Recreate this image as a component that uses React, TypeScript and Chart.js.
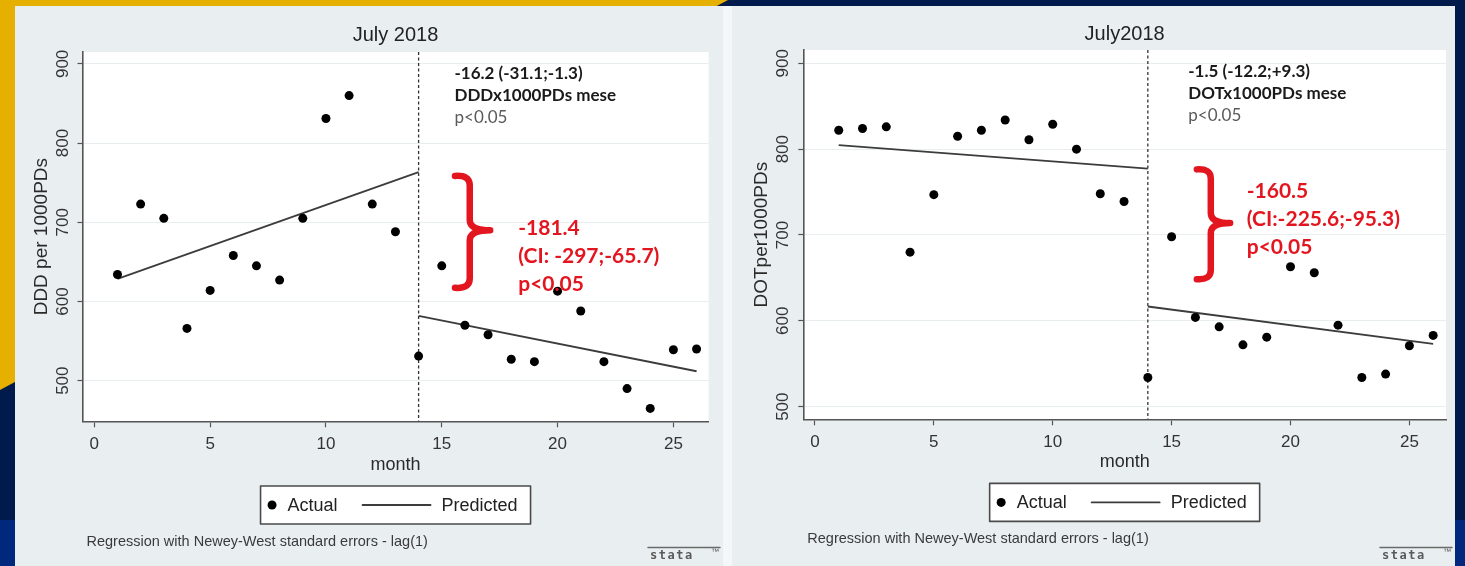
import { useEffect, useRef } from "react";
import { Chart, registerables } from "chart.js";

Chart.register(...registerables);

// ---- data -----------------------------------------------------------------
const months = [1, 2, 3, 4, 5, 6, 7, 8, 9, 10, 11, 12, 13, 14, 15, 16, 17, 18, 19, 20, 21, 22, 23, 24, 25, 26];

// DDD per 1000 patient-days
const dddActual = [634, 723, 705, 566, 614, 658, 645, 627, 705, 831, 860, 723, 688, 531, 645, 570, 558, 527, 524, 613, 588, 524, 490, 465, 539, 540];
// DOT per 1000 patient-days
const dotActual = [822, 824, 826, 680, 747, 815, 822, 834, 811, 829, 800, 748, 739, 534, 698, 604, 593, 572, 581, 663, 656, 595, 534, 538, 571, 583];

// segmented regression fits (before / after the intervention month)
const preMonths = [1, 14];
const postMonths = [14, 26];
const dddPredPre = [628.5, 763.3];
const dddPredPost = [581.9, 511.9];
const dotPredPre = [804.8, 777.2];
const dotPredPost = [616.7, 573.2];

const interventionMonth = 14;

const xTicks = [0, 5, 10, 15, 20, 25];
const yTicks = [500, 600, 700, 800, 900];

const dddTrendText = ["-16.2 (-31.1;-1.3)", "DDDx1000PDs mese", "p<0.05"];
const dddEffectText = ["-181.4", "(CI: -297;-65.7)", "p<0.05"];
const dotTrendText = ["-1.5 (-12.2;+9.3)", "DOTx1000PDs mese", "p<0.05"];
const dotEffectText = ["-160.5", "(CI:-225.6;-95.3)", "p<0.05"];

const footnote = "Regression with Newey-West standard errors - lag(1)";

// ---- styling ---------------------------------------------------------------
const PANEL_BG = "#e9eff1";
const AXIS = "#555555";
const TEXT = "#2a2a2a";
const RED = "#e3161f";
const FIT = "#3c3c3c";
const SANS = '"Liberation Sans", Arial, sans-serif';
const CALIBRI_LIKE = 'Lato, "Open Sans", sans-serif';

Chart.defaults.font.family = SANS;

type Panel = {
  width: number;
  height: number;
  title: string;
  yTitle: string;
  actual: number[];
  predPre: number[];
  predPost: number[];
  xMin: number;
  xMax: number;
  yMin: number;
  yMax: number;
  padTop: number;
  padRight: number;
  padBottom: number;
  yAxisWidth: number;
  xAxisHeight: number;
  yTitlePad: number;
  yTickPad: number;
  titleY: number;
  legendTop: number;
  footY: number;
  trendText: string[];
  trendAt: { x: number; y: number };
  effectText: string[];
  effectAt: { x: number; y: number };
  brace: { x0: number; x1: number; top: number; tip: number; bottom: number };
};

const dddPanel: Panel = {
  width: 708,
  height: 560,
  title: "July 2018",
  yTitle: "DDD per 1000PDs",
  actual: dddActual,
  predPre: dddPredPre,
  predPost: dddPredPost,
  xMin: -0.51,
  xMax: 26.52,
  yMin: 448.7,
  yMax: 915,
  padTop: 46,
  padRight: 14.4,
  padBottom: 90.2,
  yAxisWidth: 67.5,
  xAxisHeight: 54.5,
  yTitlePad: 15,
  yTickPad: 0,
  titleY: 29.5,
  legendTop: 480,
  footY: 535.5,
  trendText: dddTrendText,
  trendAt: { x: 15.55, y: 887.5 },
  effectText: dddEffectText,
  effectAt: { x: 18.3, y: 693 },
  brace: { x0: 15.57, x1: 17.09, top: 759.8, tip: 690, bottom: 616 },
};

const dotPanel: Panel = {
  width: 723,
  height: 560,
  title: "July2018",
  yTitle: "DOTper1000PDs",
  actual: dotActual,
  predPre: dotPredPre,
  predPost: dotPredPost,
  xMin: -0.49,
  xMax: 26.54,
  yMin: 485.3,
  yMax: 915.5,
  padTop: 44,
  padRight: 9,
  padBottom: 92.8,
  yAxisWidth: 71.3,
  xAxisHeight: 53.9,
  yTitlePad: 18,
  yTickPad: 1,
  titleY: 28,
  legendTop: 477.4,
  footY: 532.7,
  trendText: dotTrendText,
  trendAt: { x: 15.7, y: 890 },
  effectText: dotEffectText,
  effectAt: { x: 18.16, y: 751 },
  brace: { x0: 16.06, x1: 17.46, top: 777.6, tip: 714, bottom: 647.4 },
};

function pairs(xs: number[], ys: number[]) {
  return xs.map((x, i) => ({ x, y: ys[i] }));
}

function makeDecor(p: Panel) {
  return {
    id: "stataDecor",
    beforeDraw(chart: any) {
      const { ctx, chartArea: a } = chart;
      ctx.save();
      ctx.fillStyle = PANEL_BG;
      ctx.fillRect(0, 0, chart.width, chart.height);
      ctx.fillStyle = "#ffffff";
      ctx.fillRect(a.left, a.top, a.right - a.left, a.bottom - a.top);
      ctx.restore();
    },
    beforeDatasetsDraw(chart: any) {
      const { ctx, chartArea: a, scales } = chart;
      const x = scales.x.getPixelForValue(interventionMonth);
      ctx.save();
      ctx.strokeStyle = "#333";
      ctx.lineWidth = 1.3;
      ctx.setLineDash([3, 2.5]);
      ctx.beginPath();
      ctx.moveTo(x, a.top);
      ctx.lineTo(x, a.bottom);
      ctx.stroke();
      ctx.restore();
    },
    afterDraw(chart: any) {
      const { ctx, chartArea: a, scales } = chart;
      const sx = (v: number) => scales.x.getPixelForValue(v);
      const sy = (v: number) => scales.y.getPixelForValue(v);
      const cx = (a.left + a.right) / 2;
      ctx.save();

      // graph title
      ctx.fillStyle = "#222";
      ctx.font = `20px ${SANS}`;
      ctx.textAlign = "center";
      ctx.textBaseline = "middle";
      ctx.fillText(p.title, cx, p.titleY);

      // slope-change note
      ctx.textAlign = "left";
      const tx = sx(p.trendAt.x);
      const ty = sy(p.trendAt.y);
      p.trendText.forEach((line, i) => {
        const last = i === p.trendText.length - 1;
        ctx.font = `${last ? "" : "bold "}17px ${CALIBRI_LIKE}`;
        ctx.fillStyle = last ? "#5a5a5a" : "#1a1a1a";
        ctx.fillText(line, tx, ty + i * 22);
      });

      // level-change brace and note
      const b = p.brace;
      const X0 = sx(b.x0);
      const X1 = sx(b.x1);
      const T = sy(b.top);
      const M = sy(b.tip);
      const B = sy(b.bottom);
      const S = X0 + (X1 - X0) * 0.42;
      const r = (B - T) * 0.09;
      ctx.strokeStyle = RED;
      ctx.lineWidth = 6.5;
      ctx.lineCap = "round";
      ctx.lineJoin = "round";
      ctx.beginPath();
      ctx.moveTo(X0, T + 1);
      ctx.quadraticCurveTo(S, T, S, T + r);
      ctx.lineTo(S, M - r);
      ctx.quadraticCurveTo(S, M, X1, M);
      ctx.quadraticCurveTo(S, M, S, M + r);
      ctx.lineTo(S, B - r);
      ctx.quadraticCurveTo(S, B, X0, B - 1);
      ctx.stroke();

      ctx.fillStyle = RED;
      ctx.font = `bold 21px ${CALIBRI_LIKE}`;
      const ex = sx(p.effectAt.x);
      const ey = sy(p.effectAt.y);
      p.effectText.forEach((line, i) => ctx.fillText(line, ex, ey + i * 28));

      // legend box
      const ds = chart.data.datasets;
      const bw = 270;
      const bh = 38;
      const bx = cx - bw / 2;
      const by = p.legendTop;
      const my = by + bh / 2;
      ctx.fillStyle = "#ffffff";
      ctx.fillRect(bx, by, bw, bh);
      ctx.strokeStyle = "#4a4a4a";
      ctx.lineWidth = 1.6;
      ctx.strokeRect(bx, by, bw, bh);
      ctx.fillStyle = "#000";
      ctx.beginPath();
      ctx.arc(bx + 11.5, my, 4.5, 0, Math.PI * 2);
      ctx.fill();
      ctx.fillStyle = "#222";
      ctx.font = `18px ${SANS}`;
      ctx.fillText(ds[0].label, bx + 27, my + 1);
      ctx.strokeStyle = FIT;
      ctx.lineWidth = 1.8;
      ctx.beginPath();
      ctx.moveTo(bx + 102, my);
      ctx.lineTo(bx + 170, my);
      ctx.stroke();
      ctx.fillText(ds[1].label, bx + 181, my + 1);

      // footnote
      ctx.fillStyle = "#3a3a3a";
      ctx.font = `14.5px ${SANS}`;
      ctx.fillText(footnote, a.left + 4, p.footY);

      // software mark
      const lx = chart.width - 75;
      ctx.strokeStyle = "#6a6a6a";
      ctx.lineWidth = 1.5;
      ctx.beginPath();
      ctx.moveTo(lx, 541.5);
      ctx.lineTo(lx + 72, 541.5);
      ctx.stroke();
      ctx.fillStyle = "#5a5a5a";
      ctx.font = `bold 12px "DejaVu Sans Mono", monospace`;
      (ctx as any).letterSpacing = "1.5px";
      ctx.fillText("stata", lx + 2, 550);
      (ctx as any).letterSpacing = "0px";
      ctx.font = `8px ${SANS}`;
      ctx.fillText("\u2122", lx + 63, 546);

      ctx.restore();
    },
  };
}

function buildConfig(p: Panel): any {
  return {
    type: "scatter",
    data: {
      datasets: [
        {
          type: "scatter",
          label: "Actual",
          data: pairs(months, p.actual),
          pointRadius: 4.5,
          pointBackgroundColor: "#000",
          pointBorderWidth: 0,
          order: 1,
        },
        {
          type: "line",
          label: "Predicted",
          data: pairs(preMonths, p.predPre),
          borderColor: FIT,
          borderWidth: 1.8,
          pointRadius: 0,
          fill: false,
          order: 2,
        },
        {
          type: "line",
          label: "Predicted",
          data: pairs(postMonths, p.predPost),
          borderColor: FIT,
          borderWidth: 1.8,
          pointRadius: 0,
          fill: false,
          order: 2,
        },
      ],
    },
    options: {
      responsive: false,
      animation: false,
      devicePixelRatio: 1,
      events: [],
      layout: { padding: { top: p.padTop, left: 0, right: p.padRight, bottom: p.padBottom } },
      plugins: { legend: { display: false }, tooltip: { enabled: false }, title: { display: false } },
      scales: {
        x: {
          type: "linear",
          min: p.xMin,
          max: p.xMax,
          afterBuildTicks: (s: any) => {
            s.ticks = xTicks.map((v) => ({ value: v }));
          },
          afterFit: (s: any) => {
            s.height = p.xAxisHeight;
          },
          ticks: { font: { size: 17, family: SANS }, color: "#333", padding: 6.5, maxRotation: 0 },
          grid: { display: true, drawOnChartArea: false, drawTicks: true, tickLength: 6, tickColor: AXIS, tickWidth: 1.2 },
          border: { display: true, color: AXIS, width: 1.6 },
          title: { display: true, text: "month", font: { size: 18, family: SANS }, color: TEXT, padding: { top: 0, bottom: 0 } },
        },
        y: {
          type: "linear",
          min: p.yMin,
          max: p.yMax,
          afterBuildTicks: (s: any) => {
            s.ticks = yTicks.map((v) => ({ value: v }));
          },
          afterFit: (s: any) => {
            s.width = p.yAxisWidth;
          },
          ticks: {
            font: { size: 17, family: SANS },
            color: "#333",
            padding: p.yTickPad,
            minRotation: 90,
            maxRotation: 90,
            crossAlign: "center",
          },
          grid: { color: "#e8edef", lineWidth: 1, drawTicks: true, tickLength: 5, tickColor: AXIS, tickWidth: 1.2 },
          border: { display: true, color: AXIS, width: 1.6 },
          title: { display: true, text: p.yTitle, font: { size: 19, family: SANS }, color: TEXT, padding: { top: p.yTitlePad, bottom: 0 } },
        },
      },
    },
    plugins: [makeDecor(p)],
  };
}

function StataGraph({ panel, left }: { panel: Panel; left: number }) {
  const ref = useRef<HTMLCanvasElement>(null);
  useEffect(() => {
    if (!ref.current) return;
    const chart = new Chart(ref.current, buildConfig(panel));
    return () => chart.destroy();
  }, [panel]);
  return (
    <canvas
      ref={ref}
      width={panel.width}
      height={panel.height}
      style={{ position: "absolute", left, top: 6, width: panel.width, height: panel.height, background: PANEL_BG }}
    />
  );
}

export default function App() {
  return (
    <div
      style={{
        position: "fixed",
        left: 0,
        top: 0,
        width: 1465,
        height: 566,
        overflow: "hidden",
        background: "#011a4c",
      }}
    >
      <div style={{ position: "absolute", left: 0, top: 520, width: 1465, height: 46, background: "#00297e" }} />
      <div
        style={{
          position: "absolute",
          left: 0,
          top: 0,
          width: 740,
          height: 400,
          background: "#e6b000",
          clipPath: "polygon(0 0, 728px 0, 0 390px)",
        }}
      />
      <div style={{ position: "absolute", left: 723, top: 6, width: 9, height: 560, background: "#f4f7f8" }} />
      <StataGraph panel={dddPanel} left={15} />
      <StataGraph panel={dotPanel} left={732} />
    </div>
  );
}
